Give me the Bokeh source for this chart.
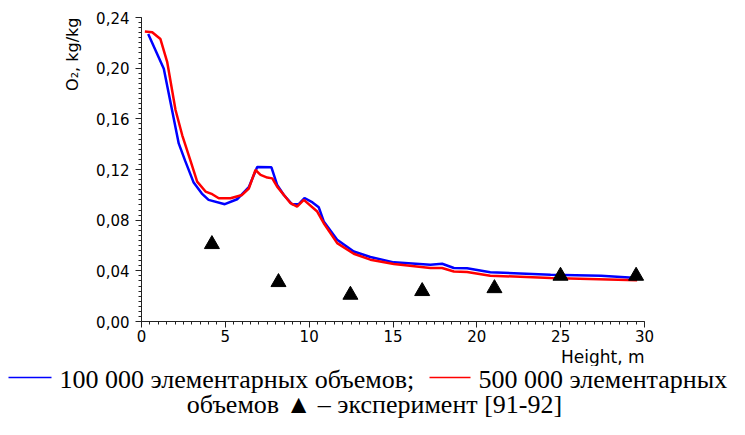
from bokeh.plotting import figure
from bokeh.models import Range1d, FixedTicker, CustomJSTickFormatter, Title
from bokeh.layouts import column
from bokeh.core.properties import value
from bokeh.embed import file_html
from bokeh.resources import INLINE

# --- data ---
x_100k = [0.4, 1.33, 2.22, 2.6, 3.1, 3.6, 4.0, 4.97, 5.7, 6.4, 6.9, 7.75, 8.09, 8.49, 8.98,
          9.38, 9.72, 10.2, 10.57, 10.87, 11.67, 12.66, 13.65, 15.05, 17.23, 17.93, 18.63,
          19.42, 20.8, 24.4, 27.4, 29.56]
y_100k = [0.227, 0.1996, 0.1406, 0.127, 0.110, 0.101, 0.096, 0.0926, 0.0965, 0.106, 0.122,
          0.1217, 0.1078, 0.0999, 0.0926, 0.0926, 0.0975, 0.094, 0.0902, 0.079, 0.0645,
          0.0553, 0.0509, 0.0467, 0.0448, 0.0456, 0.0422, 0.042, 0.0388, 0.037, 0.0362, 0.0344]

x_500k = [0.2, 0.64, 1.13, 1.53, 2.03, 2.43, 2.92, 3.32, 3.82, 4.22, 4.61, 5.31, 6.0, 6.4,
          6.8, 7.1, 7.5, 7.8, 8.09, 8.89, 9.28, 9.68, 10.48, 10.87, 11.67, 12.66, 13.65,
          15.05, 17.23, 17.93, 18.63, 19.42, 20.8, 24.4, 29.56]
y_500k = [0.229, 0.2284, 0.223, 0.205, 0.167, 0.147, 0.127, 0.1104, 0.1026, 0.1005, 0.0973,
          0.0973, 0.0999, 0.105, 0.1196, 0.1157, 0.1136, 0.113, 0.1065, 0.0934, 0.0907,
          0.096, 0.0868, 0.0776, 0.0619, 0.0535, 0.0488, 0.0454, 0.0422, 0.0422, 0.0395,
          0.039, 0.0362, 0.0344, 0.0325]

x_exp = [4.2, 8.17, 12.46, 16.74, 21.05, 24.99, 29.5]
y_exp = [0.061, 0.031, 0.021, 0.0239, 0.0262, 0.036, 0.036]

x_ticks = [0, 5, 10, 15, 20, 25, 30]
y_ticks = [0.0, 0.04, 0.08, 0.12, 0.16, 0.20, 0.24]

y_label = "O\u2082, kg/kg"
x_label = "Height, m"
legend_line1 = ["100 000 элементарных объемов;", "500 000 элементарных"]
legend_line2 = "объемов \u25B2 \u2013 эксперимент [91-92]"
legend_colors = ["#0000ff", "#ff0000"]

W = 729
H1 = 366
H2 = 419 - H1

# --- chart ---
p = figure(width=W, height=H1, output_backend="svg", toolbar_location=None,
           x_range=Range1d(0, 30), y_range=Range1d(0, 0.24),
           min_border_left=141, min_border_right=W - 644, min_border_top=17,
           min_border_bottom=H1 - 322)
p.outline_line_color = None
p.grid.visible = False

p.xaxis.ticker = FixedTicker(ticks=x_ticks, minor_ticks=[i * 0.5 for i in range(61)])
p.yaxis.ticker = FixedTicker(ticks=y_ticks, minor_ticks=[i * 0.004 for i in range(61)])
p.yaxis.formatter = CustomJSTickFormatter(code="return tick.toFixed(2).replace('.', ',');")
p.xaxis.formatter = CustomJSTickFormatter(code="return tick.toFixed(0);")

for ax in (p.xaxis, p.yaxis):
    ax.axis_line_color = "#222222"
    ax.axis_line_width = 1
    ax.major_tick_line_color = "#222222"
    ax.minor_tick_line_color = "#222222"
    ax.major_tick_out = 6
    ax.major_tick_in = 0
    ax.minor_tick_out = 3
    ax.minor_tick_in = 0
    ax.major_label_text_font = "DejaVu Sans"
    ax.major_label_text_font_size = "15px"
    ax.major_label_text_color = "black"
p.xaxis.major_label_standoff = 2
p.yaxis.major_label_standoff = 6

p.line(x_100k, y_100k, line_color="#0000ff", line_width=2.5)
p.line(x_500k, y_500k, line_color="#ff0000", line_width=2.5)
p.scatter(x_exp, y_exp, marker="triangle", size=15, fill_color="black", line_color="black")

p.add_layout(Title(text=x_label, align="right", text_font="DejaVu Sans",
                   text_font_size="17px", text_font_style="normal", text_color="black",
                   standoff=0, offset=0), "below")
p.add_layout(Title(text=y_label, align="right", text_font="DejaVu Sans",
                   text_font_size="16px", text_font_style="normal", text_color="black",
                   standoff=24, offset=0), "left")

# --- caption (screen-pixel coordinates) ---
q = figure(width=W, height=H2, output_backend="svg", toolbar_location=None,
           x_range=Range1d(0, W), y_range=Range1d(419, H1),
           min_border=0, min_border_left=0, min_border_right=0,
           min_border_top=0, min_border_bottom=0)
q.axis.visible = False
q.grid.visible = False
q.outline_line_color = None
for fig in (p, q):
    try:
        fig.frame_align = False
    except Exception:
        pass

fs = value("26px")
serif = value("Liberation Serif")
q.segment(x0=[8, 429], y0=[377, 377], x1=[51, 470], y1=[377, 377],
          line_color=legend_colors, line_width=1.3)
q.text(x=[59, 478], y=[379, 379], text=legend_line1, text_align="left",
       text_baseline="alphabetic", text_font=serif, text_font_size=fs, text_color="black")
q.text(x=[374], y=[404], text=[legend_line2], text_align="center",
       text_baseline="alphabetic", text_font=serif, text_font_size=fs, text_color="black")

layout = column(p, q, spacing=0)
open("out.html", "w").write(file_html(layout, INLINE))
